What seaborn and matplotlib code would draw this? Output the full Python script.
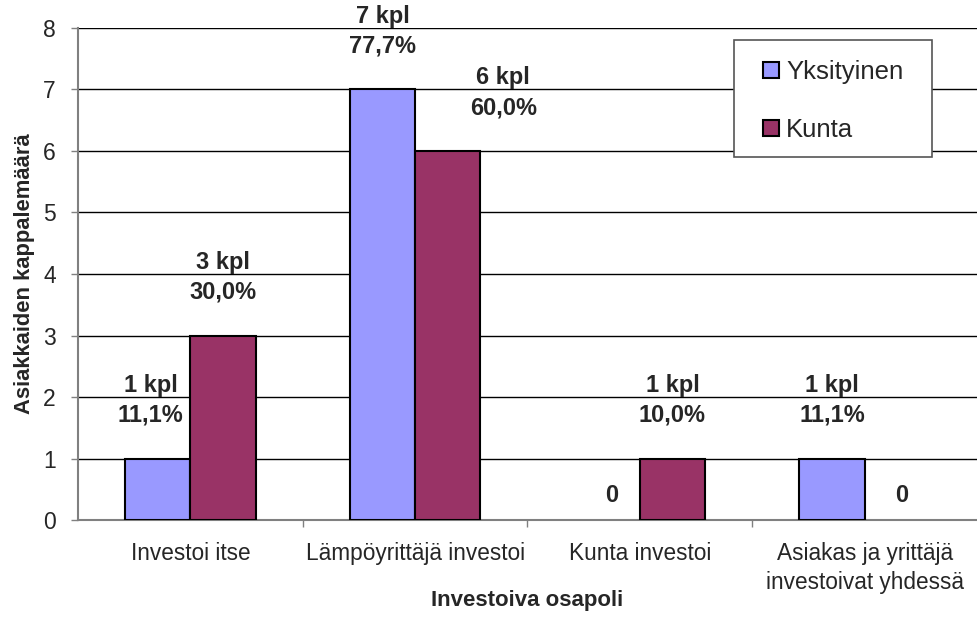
import matplotlib
matplotlib.use("Agg")
import matplotlib.pyplot as plt
from matplotlib.lines import Line2D
from matplotlib.patches import Rectangle
import seaborn as sns
import pandas as pd

# Data
categories = ["Investoi itse", "Lämpöyrittäjä investoi", "Kunta investoi",
              "Asiakas ja yrittäjä\ninvestoivat yhdessä"]
series = ["Yksityinen", "Kunta"]
yksityinen = [1, 7, 0, 1]
kunta = [3, 6, 1, 0]
yksityinen_pct = ["11,1%", "77,7%", "0,0%", "11,1%"]
kunta_pct = ["30,0%", "60,0%", "10,0%", "0,0%"]

colors = {"Yksityinen": "#9999FF", "Kunta": "#993366"}

df = pd.DataFrame({
    "Investoiva osapoli": categories * 2,
    "Sarja": [series[0]] * 4 + [series[1]] * 4,
    "Määrä": yksityinen + kunta,
})

sns.set_theme(style="white")
plt.rcParams["font.family"] = ["Liberation Sans", "DejaVu Sans"]

fig = plt.figure(figsize=(9.77, 6.39), dpi=100)
ax = fig.add_axes([0.0798, 0.1862, 0.9202, 0.77])

sns.barplot(data=df, x="Investoiva osapoli", y="Määrä", hue="Sarja",
            order=categories, hue_order=series, palette=colors,
            width=0.58, edgecolor="black", linewidth=1.5, saturation=1,
            legend=False, ax=ax, zorder=3)

# hide zero-height bars
for p in ax.patches:
    if p.get_height() == 0:
        p.set_visible(False)

ax.set_xlim(-0.5, 3.5)
ax.set_ylim(0, 8)
ax.set_yticks(range(0, 9))
ax.yaxis.grid(True, color="black", linewidth=1.0, zorder=0)
ax.set_axisbelow(True)

for s in ["top", "right"]:
    ax.spines[s].set_visible(False)
for s in ["left", "bottom"]:
    ax.spines[s].set_color("#808080")
    ax.spines[s].set_linewidth(1.5)

ax.tick_params(axis="y", which="major", length=5, width=1, color="#808080",
               direction="out", left=True, labelsize=16.5, pad=11)
ax.tick_params(axis="x", which="major", length=0, labelsize=16.3, pad=16)
for lbl in ax.get_xticklabels():
    lbl.set_linespacing(1.3)
ax.set_xticks([0.5, 1.5, 2.5], minor=True)
ax.tick_params(axis="x", which="minor", length=5, width=1, color="#808080",
               direction="out", bottom=True)

ax.set_xlabel("Investoiva osapoli", fontsize=16, fontweight="bold")
ax.xaxis.set_label_coords(0.5, -0.142)
ax.set_ylabel("Asiakkaiden kappalemäärä", fontsize=15.8, fontweight="bold", labelpad=5.5)

# Value labels
half = 0.58 / 4
label_dx = {("Kunta", 1): 40, ("Yksityinen", 0): -5, ("Kunta", 3): 0}
for name, vals, pcts, sign in [("Yksityinen", yksityinen, yksityinen_pct, -1),
                               ("Kunta", kunta, kunta_pct, 1)]:
    for i, (v, pct) in enumerate(zip(vals, pcts)):
        x = i + sign * half
        dx = label_dx.get((name, i), 0)
        if v == 0:
            ax.annotate("0", (x, v), xytext=(dx + 3, 18), textcoords="offset points",
                        ha="center", va="center", fontsize=17, fontweight="bold")
        else:
            ax.annotate(f"{v} kpl\n{pct}", (x, v), xytext=(dx, 42),
                        textcoords="offset points", ha="center", va="center",
                        fontsize=17, fontweight="bold", linespacing=1.4)

# Legend box
ax.add_patch(Rectangle((0.730, 0.738), 0.220, 0.2376, transform=ax.transAxes,
                       facecolor="white", edgecolor="#555555", linewidth=1.2,
                       zorder=5, clip_on=False))
handles = [Line2D([0], [0], marker="s", linestyle="none", markersize=12,
                  markerfacecolor=colors[s], markeredgecolor="black",
                  markeredgewidth=1.5) for s in series]
leg = ax.legend(handles, series, loc="center left", bbox_to_anchor=(0.761, 0.8516),
                fontsize=18.5, frameon=False, labelspacing=1.315, handlelength=0.7,
                handletextpad=0.23, borderpad=0, borderaxespad=0)
leg.set_zorder(6)

fig.savefig("out.png", dpi=100)
